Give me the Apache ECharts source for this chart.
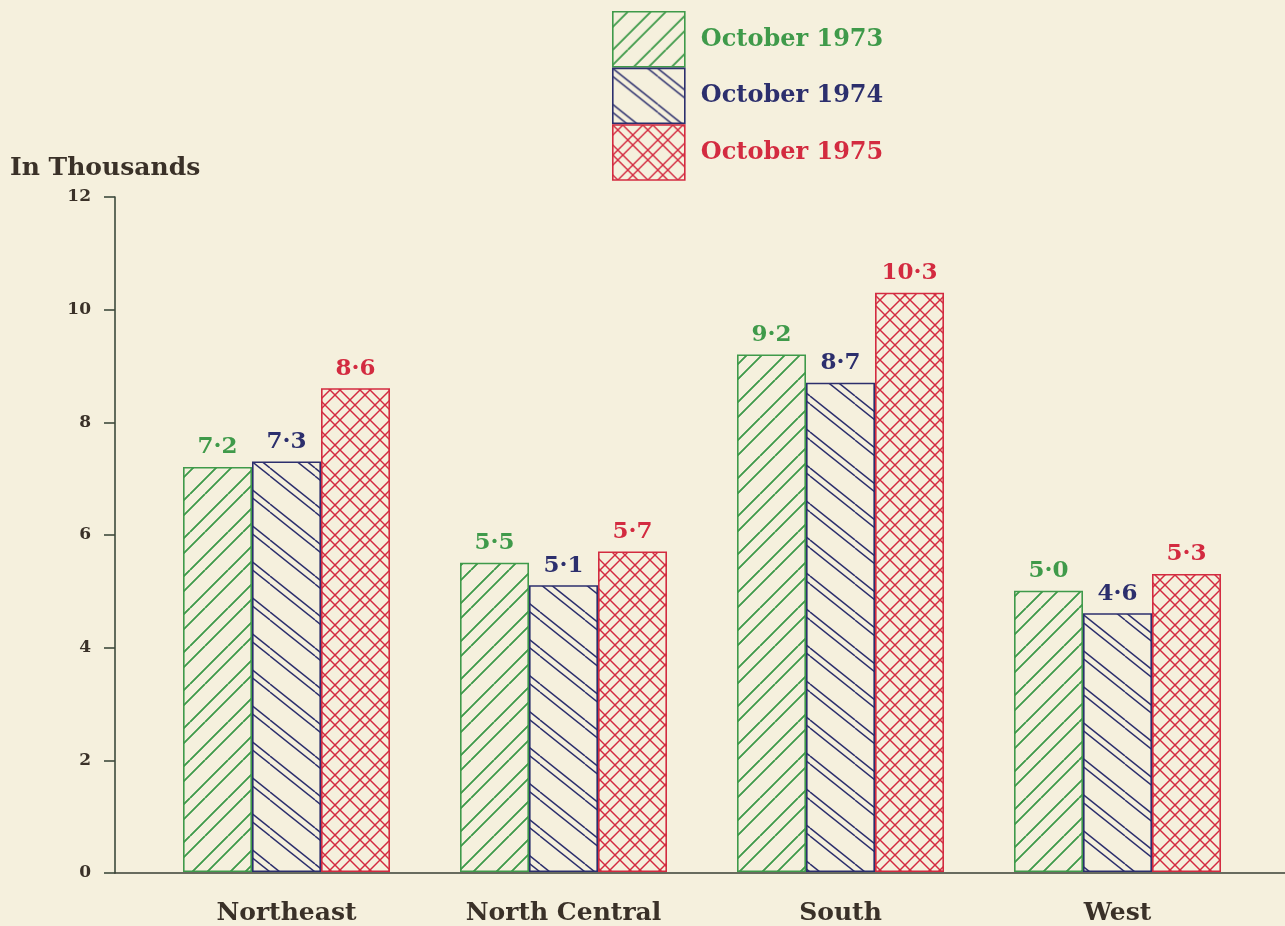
<!DOCTYPE html>
<html><head><meta charset="utf-8">
<script src="https://cdn.jsdelivr.net/npm/echarts@6/dist/echarts.min.js"></script>
<style>html,body{margin:0;padding:0;background:#f5f0dd;}#c{width:1285px;height:926px;}</style>
</head><body><div id="c"></div>
<script>
const categories = ['Northeast', 'North Central', 'South', 'West'];
const seriesNames = ['October 1973', 'October 1974', 'October 1975'];
const oct1973 = [7.2, 5.5, 9.2, 5.0];
const oct1974 = [7.3, 5.1, 8.7, 4.6];
const oct1975 = [8.6, 5.7, 10.3, 5.3];
const yTicks = [0, 2, 4, 6, 8, 10, 12];

const colors = ['#3f9a4a', '#2c2f6d', '#d32b40'];
const FONT = '"DejaVu Serif", "Liberation Serif", serif';

function tile(w, h, color, draw) {
  const c = document.createElement('canvas');
  c.width = w; c.height = h;
  const g = c.getContext('2d');
  g.strokeStyle = color; g.lineWidth = 1.5; g.lineCap = 'butt';
  draw(g, w, h);
  return { image: c, repeat: 'repeat' };
}
// green: "/" lines in pairs
const greenPat = tile(38, 38, colors[0], (g, w, h) => {
  [0, 15].forEach(d => {
    for (let n = -2; n <= 2; n++) {
      const c0 = d + n * 38;
      g.beginPath(); g.moveTo(c0 - 38, 38); g.lineTo(c0, 0); g.stroke();
      g.beginPath(); g.moveTo(c0, 38); g.lineTo(c0 + 38, 0); g.stroke();
    }
  });
});
// navy: "\" lines, slope 0.8, in pairs
const bluePat = tile(45, 36, colors[1], (g, w, h) => {
  [0, 8].forEach(d => {
    for (let n = -2; n <= 1; n++) {
      const c0 = d + n * 36;
      g.beginPath(); g.moveTo(0, c0); g.lineTo(45, c0 + 36); g.stroke();
    }
  });
});
// red: crosshatch
const redPat = tile(30, 30, colors[2], (g, w, h) => {
  [0, 10].forEach(d => {
    for (let n = -2; n <= 2; n++) {
      const c0 = d + n * 30;
      g.beginPath(); g.moveTo(c0, 0); g.lineTo(c0 + 30, 30); g.stroke();
      g.beginPath(); g.moveTo(c0 + 30, 0); g.lineTo(c0, 30); g.stroke();
    }
  });
});
const patterns = [greenPat, bluePat, redPat];
const values = [oct1973, oct1974, oct1975];

const chart = echarts.init(document.getElementById('c'), null, { renderer: 'canvas' });
const series = seriesNames.map((name, i) => ({
  name, type: 'bar', xAxisIndex: 0, yAxisIndex: 0,
  data: values[i], barWidth: 69, barGap: '0%',
  itemStyle: { color: patterns[i], borderColor: colors[i], borderWidth: 1.6 },
  label: {
    show: true, position: 'top', distance: 8, color: colors[i],
    fontFamily: FONT, fontWeight: 'bold', fontSize: 23,
    formatter: p => p.value.toFixed(1).replace('.', '·')
  },
  emphasis: { disabled: true }
}));

chart.setOption({
  backgroundColor: '#f5f0dd',
  animation: false,
  title: {
    text: 'In Thousands', left: 10, top: 156, padding: 0,
    textStyle: { fontFamily: FONT, fontWeight: 'bold', fontSize: 25, color: '#3a3128' }
  },
  legend: {
    orient: 'vertical', left: 612, top: 11, padding: 0, itemWidth: 72, itemHeight: 55, itemGap: 0,
    icon: 'rect',
    data: seriesNames.map((n, i) => ({ name: n, textStyle: { color: colors[i] } })),
    textStyle: { fontFamily: FONT, fontWeight: 'bold', fontSize: 24, padding: [0, 0, 0, 11] },
    itemStyle: { borderWidth: 1.6 }
  },
  grid: [
    { left: 148, right: 29, top: 197, bottom: 53 },
    { left: 115, right: 0, top: 197, bottom: 53 }
  ],
  xAxis: [
    { type: 'category', gridIndex: 0, data: categories,
      axisLine: { show: false }, axisTick: { show: false },
      axisLabel: { margin: 29, fontFamily: FONT, fontWeight: 'bold', fontSize: 25, color: '#3a3128' } },
    { type: 'value', gridIndex: 1, min: 0, max: 1,
      axisLine: { show: true, lineStyle: { color: '#3a3f35', width: 1.6 } },
      axisTick: { show: false }, axisLabel: { show: false }, splitLine: { show: false } }
  ],
  yAxis: [
    { type: 'value', gridIndex: 0, min: 0, max: 12, interval: 2, show: false, splitLine: { show: false } },
    { type: 'value', gridIndex: 1, min: yTicks[0], max: yTicks[yTicks.length - 1], interval: 2,
      axisLine: { show: true, lineStyle: { color: '#3d4a3c', width: 1.6 } },
      axisTick: { show: true, inside: false, length: 11, lineStyle: { color: '#3d4a3c', width: 1.6 } },
      axisLabel: { margin: 24, fontFamily: FONT, fontWeight: 'bold', fontSize: 17, color: '#3a3128' },
      splitLine: { show: false } }
  ],
  series
});
</script></body></html>
